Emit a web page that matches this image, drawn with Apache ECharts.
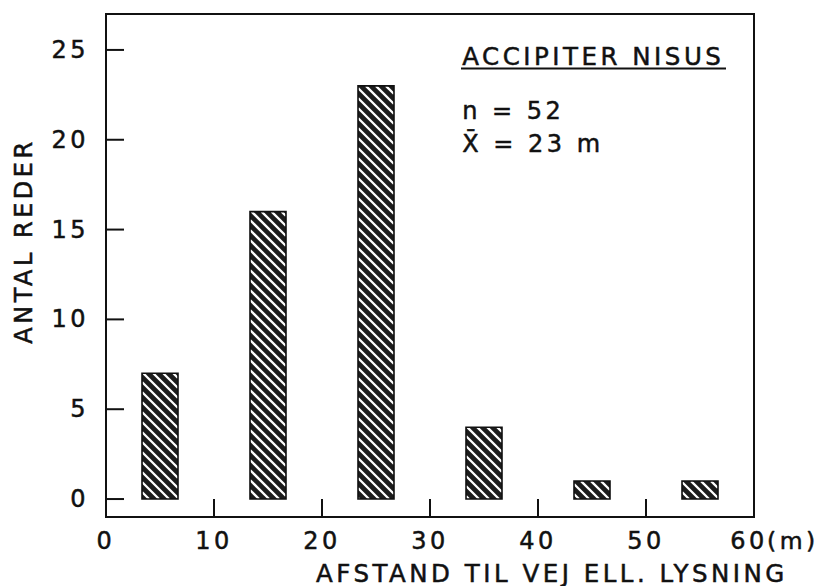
<!DOCTYPE html>
<html>
<head>
<meta charset="utf-8">
<script src="https://cdn.jsdelivr.net/npm/echarts@6/dist/echarts.min.js"></script>
<style>
  html, body { margin: 0; padding: 0; background: #fff; }
  #chart { width: 821px; height: 586px; }
  #chart text { letter-spacing: 3.5px; }
</style>
</head>
<body>
<div id="chart"></div>
<script>
// ---- data ----
const binCenters = [5, 15, 25, 35, 45, 55];
const nestCounts = [7, 16, 23, 4, 1, 1];
const xTickValues = [0, 10, 20, 30, 40, 50, 60];
const yTickValues = [0, 5, 10, 15, 20, 25];
const xAxisTitle = 'AFSTAND TIL VEJ ELL. LYSNING';
const yAxisTitle = 'ANTAL REDER';
const unitLabel = '(m)';
const speciesTitle = 'ACCIPITER NISUS';
const sampleText = 'n = 52';
const meanText = 'X\u0304 = 23 m';

// ---- styling ----
const FONT = '"DejaVu Sans", "Liberation Sans", sans-serif';
const INK = '#111';
const BIN_WIDTH = 10;
const BAR_FRACTION = 1 / 3;
const HATCH_PERIOD = 10;
const TICK_LEN = 18;
const PEN = { textBorderColor: INK, textBorderWidth: 0.5 };   // for axis labels
const GPEN = { stroke: INK, lineWidth: 0.5 };                 // for graphic texts

const chart = echarts.init(document.getElementById('chart'), null, { renderer: 'svg' });

function renderBar(params, api) {
  const c = api.value(0), v = api.value(1);
  const half = BIN_WIDTH * BAR_FRACTION / 2;
  const pTop = api.coord([c - half, v]);
  const pBot = api.coord([c + half, 0]);
  const x0 = pTop[0], y0 = pTop[1], x1 = pBot[0], y1 = pBot[1];
  const children = [{
    type: 'rect',
    shape: { x: x0, y: y0, width: x1 - x0, height: y1 - y0 },
    style: { fill: '#1c1c1c', stroke: 'none' }
  }];
  const kStart = Math.ceil((y0 - x1) / HATCH_PERIOD) * HATCH_PERIOD;
  for (let k = kStart; k <= y1 - x0; k += HATCH_PERIOD) {
    const xs = Math.max(x0, y0 - k), xe = Math.min(x1, y1 - k);
    if (xe - xs > 0.5) {
      children.push({
        type: 'line',
        shape: { x1: xs, y1: xs + k, x2: xe, y2: xe + k },
        style: { stroke: '#fff', lineWidth: 2.3 }
      });
    }
  }
  children.push({
    type: 'rect',
    shape: { x: x0, y: y0, width: x1 - x0, height: y1 - y0 },
    style: { fill: 'none', stroke: INK, lineWidth: 1.6 }
  });
  return { type: 'group', children: children };
}

// inward y-axis ticks, placed through the axis scale
function renderYTick(params, api) {
  const p = api.coord([api.value(0), api.value(1)]);
  return {
    type: 'line',
    shape: { x1: p[0], y1: p[1], x2: p[0] + TICK_LEN, y2: p[1] },
    style: { stroke: INK, lineWidth: 2 }
  };
}

const textBase = Object.assign({ fontFamily: FONT, fontSize: 24, fill: INK }, GPEN);

chart.setOption({
  animation: false,
  backgroundColor: '#fff',
  textStyle: { fontFamily: FONT },
  grid: {
    left: 106, right: 67, top: 14, bottom: 69,
    show: true, borderColor: INK, borderWidth: 2, backgroundColor: 'transparent'
  },
  xAxis: {
    type: 'value',
    min: xTickValues[0], max: xTickValues[xTickValues.length - 1], interval: 10,
    axisLine: { show: true, onZero: false, lineStyle: { color: INK, width: 2 } },
    axisTick: { show: true, inside: true, length: TICK_LEN, lineStyle: { color: INK, width: 2 } },
    axisLabel: Object.assign({
      show: true, margin: 12, color: INK, fontSize: 24, fontFamily: FONT,
      formatter: function (v) { return v === 60 ? '{r|' + v + '}' : String(v); },
      rich: { r: Object.assign({ fontSize: 24, fontFamily: FONT, color: INK, padding: [0, 10, 0, 0] }, PEN) }
    }, PEN),
    splitLine: { show: false }
  },
  yAxis: {
    type: 'value',
    min: -1, max: 27,
    axisLine: { show: true, onZero: false, lineStyle: { color: INK, width: 2 } },
    axisTick: { show: false },
    axisLabel: Object.assign({ show: true, margin: 17, color: INK, fontSize: 24, fontFamily: FONT, customValues: yTickValues }, PEN),
    splitLine: { show: false }
  },
  series: [{
    type: 'custom',
    renderItem: renderYTick,
    data: yTickValues.map(v => [xTickValues[0], v]),
    clip: false,
    silent: true
  }, {
    type: 'custom',
    renderItem: renderBar,
    data: binCenters.map((c, i) => [c, nestCounts[i]]),
    clip: false
  }],
  graphic: [
    { type: 'text', left: 462, top: 44, style: Object.assign({}, textBase, { text: speciesTitle, fontSize: 24.5 }) },
    { type: 'line', shape: { x1: 461, y1: 68.5, x2: 726, y2: 68.5 }, style: { stroke: INK, lineWidth: 2 } },
    { type: 'text', left: 462, top: 99, style: Object.assign({}, textBase, { text: sampleText }) },
    { type: 'text', left: 462, top: 132, style: Object.assign({}, textBase, { text: meanText }) },
    { type: 'text', x: 767, y: 541, style: Object.assign({}, textBase, { text: unitLabel, verticalAlign: 'middle', fontSize: 23.5 }) },
    { type: 'text', x: 316, y: 573, style: Object.assign({}, textBase, { text: xAxisTitle, verticalAlign: 'middle', fontSize: 24.5, lineHeight: 24 }) },
    { type: 'text', x: 24, y: 241, rotation: Math.PI / 2,
      style: Object.assign({}, textBase, { text: yAxisTitle, align: 'center', verticalAlign: 'middle' }) }
  ]
});
</script>
</body>
</html>
